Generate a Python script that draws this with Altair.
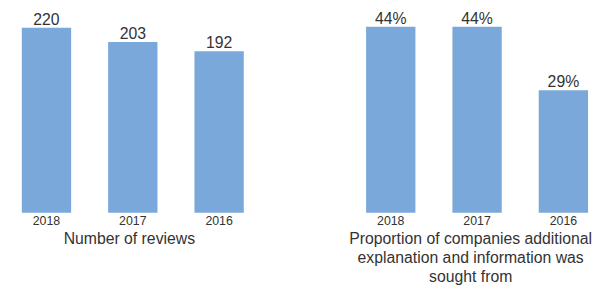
import altair as alt
import pandas as pd

years = ["2018", "2017", "2016"]
reviews = [220, 203, 192]
proportions = [44, 44, 29]
review_labels = ["220", "203", "192"]
prop_labels = ["44%", "44%", "29%"]

BAR = "#7aa8da"
TXT = "#333333"
FONT = "Liberation Sans"

df1 = pd.DataFrame({"year": years, "value": reviews, "label": review_labels})
df2 = pd.DataFrame({"year": years, "value": proportions, "label": prop_labels})


def panel(df, title, domain_max, width, pad_outer, align):
    x = alt.X(
        "year:N",
        sort=years,
        scale=alt.Scale(paddingInner=0.4286, paddingOuter=pad_outer, align=align),
        axis=alt.Axis(
            title=title,
            labelAngle=0,
            ticks=False,
            tickSize=0,
            domain=False,
            labelPadding=2,
            labelFontSize=12.5,
            labelColor=TXT,
            labelFont=FONT,
            titleFontSize=16,
            titleFont=FONT,
            titleFontWeight="normal",
            titleColor=TXT,
            titlePadding=4,
            titleLineHeight=19,
        ),
    )
    y = alt.Y("value:Q", scale=alt.Scale(domain=[0, domain_max], nice=False), axis=None)
    bars = alt.Chart(df).mark_bar(color=BAR).encode(x=x, y=y)
    text = alt.Chart(df).mark_text(
        baseline="alphabetic", dy=-3, fontSize=16, font=FONT, color=TXT
    ).encode(x=x, y=y, text="label:N")
    return (bars + text).properties(width=width, height=205.7)


left = panel(df1, "Number of reviews", 241.1, 245, 0.1143, 0.7)
right = panel(
    df2,
    ["Proportion of companies additional", "explanation and information was", "sought from"],
    48,
    239,
    0.08,
    1.0,
)

chart = (
    alt.hconcat(left, right, spacing=100)
    .properties(padding=0)
    .configure_view(stroke=None)
)

chart.save("out.html", embed_options={"renderer": "svg", "actions": False})
